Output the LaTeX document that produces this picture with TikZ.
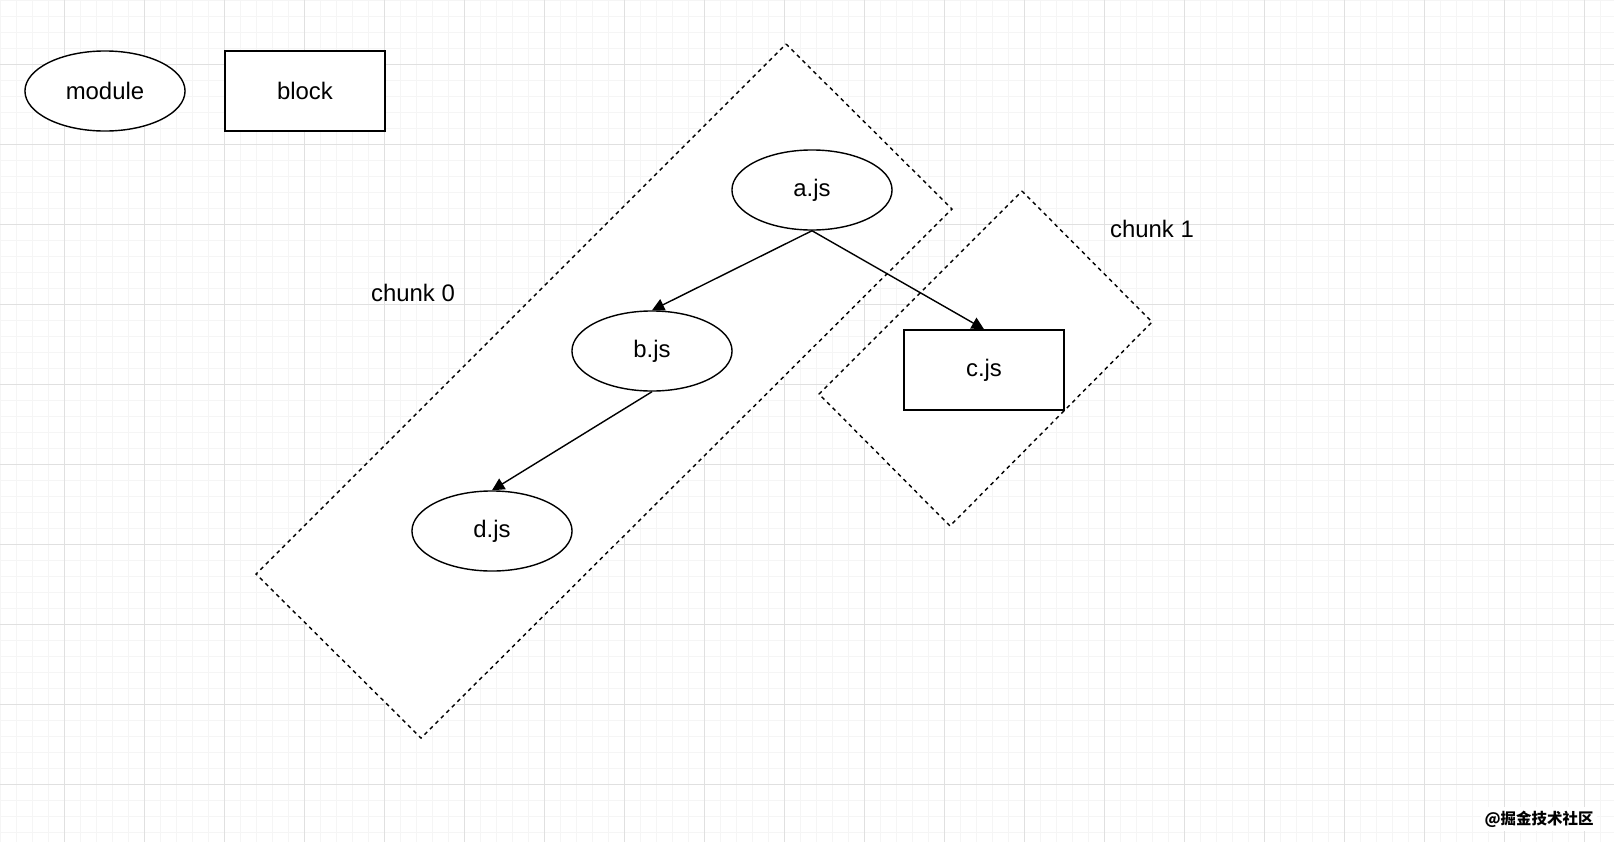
\documentclass[tikz,border=0pt]{standalone}
\usepackage{fontspec}
\setmainfont{Liberation Sans}
\newfontfamily\cjk{Noto Sans CJK SC}
\usetikzlibrary{shapes.geometric,arrows.meta}
\begin{document}
\begin{tikzpicture}[x=0.01cm,y=-0.01cm,
  every node/.style={font=\fontsize{6.8pt}{8pt}\selectfont},
  modnode/.style={ellipse,draw,line width=0.4pt,minimum width=1.6cm,minimum height=0.8cm,inner sep=0pt,fill=white},
  blocknode/.style={rectangle,draw,line width=0.45pt,minimum width=1.6cm,minimum height=0.8cm,inner sep=0pt,fill=white},
  chunk/.style={draw,dash pattern=on 1.1pt off 1.1pt,line width=0.4pt,fill=white},
  conn/.style={draw,line width=0.4pt,-{Triangle[length=3.5pt,width=3.5pt]}}]
\fill[white] (0,0) rectangle (1614,842);
\useasboundingbox (0,0) rectangle (1614,842);
\foreach \i in {0,16,...,1614} \draw[color=black!4,line width=0.25pt] (\i,0) -- (\i,842);
\foreach \j in {0,16,...,842} \draw[color=black!4,line width=0.25pt] (0,\j) -- (1614,\j);
\foreach \i in {64,144,...,1614} \draw[color=black!12,line width=0.25pt] (\i,0) -- (\i,842);
\foreach \j in {64,144,...,842} \draw[color=black!12,line width=0.25pt] (0,\j) -- (1614,\j);
\draw[chunk] (786,44) -- (952,209) -- (421,738) -- (256,574) -- cycle;
\draw[chunk] (1022,191) -- (1152,322) -- (950,526) -- (819,394) -- cycle;
\node[modnode] (mod) at (105,91) {module};
\node[blocknode] (blk) at (305,91) {block};
\node[modnode] (a) at (812,190) {a.js};
\node[modnode] (b) at (652,351) {b.js};
\node[modnode] (d) at (492,531) {d.js};
\node[blocknode] (c) at (984,370) {c.js};
\node (l0) at (413,293) {chunk 0};
\node (l1) at (1152,229) {chunk 1};
\draw[conn] (a.south) -- (b.north);
\draw[conn] (a.south) -- (c.north);
\draw[conn] (b.south) -- (d.north);
\node[font=\cjk\bfseries\fontsize{4.4pt}{5pt}\selectfont,fill=white,inner sep=1pt] (wm) at (1539,819) {@掘金技术社区};
\end{tikzpicture}
\end{document}
